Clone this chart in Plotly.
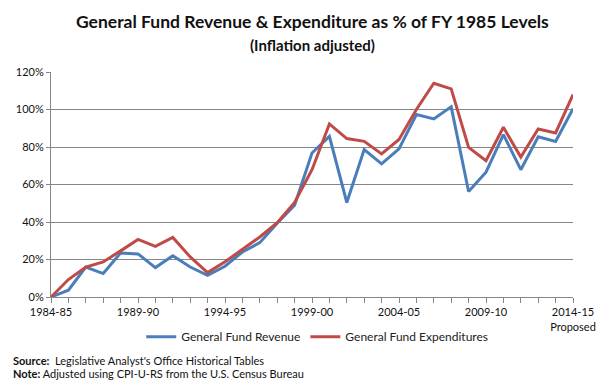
import plotly.graph_objects as go

years = ["1984-85", "1985-86", "1986-87", "1987-88", "1988-89", "1989-90", "1990-91",
         "1991-92", "1992-93", "1993-94", "1994-95", "1995-96", "1996-97", "1997-98",
         "1998-99", "1999-00", "2000-01", "2001-02", "2002-03", "2003-04", "2004-05",
         "2005-06", "2006-07", "2007-08", "2008-09", "2009-10", "2010-11", "2011-12",
         "2012-13", "2013-14", "2014-15"]
revenue = [0.0, 3.6, 16.0, 12.5, 23.5, 23.0, 15.7, 22.0, 16.0, 11.6, 16.4, 24.0, 29.0,
           39.3, 49.0, 76.8, 85.7, 50.4, 78.6, 71.0, 79.0, 97.3, 95.0, 101.4, 56.3, 66.6,
           86.6, 67.9, 85.4, 83.0, 100.4]
expenditure = [0.0, 9.3, 16.0, 18.7, 24.6, 30.7, 27.0, 31.8, 21.4, 13.0, 18.8, 25.5, 32.0,
               39.6, 50.4, 67.9, 92.3, 84.5, 83.0, 76.3, 84.0, 100.0, 114.0, 111.0, 79.8,
               72.7, 90.5, 74.6, 89.6, 87.5, 108.0]
tick_labels = {0: "1984-85", 5: "1989-90", 10: "1994-95", 15: "1999-00",
               20: "2004-05", 25: "2009-10", 30: "2014-15<br>Proposed"}

FONT = "Lato"
xidx = list(range(len(years)))

fig = go.Figure()
fig.add_trace(go.Scatter(x=xidx, y=[v / 100 for v in revenue], mode="lines",
                         name="General Fund Revenue",
                         line=dict(color="#4A7EBB", width=3), customdata=years))
fig.add_trace(go.Scatter(x=xidx, y=[v / 100 for v in expenditure], mode="lines",
                         name="General Fund Expenditures",
                         line=dict(color="#BE4B48", width=3), customdata=years))

fig.update_layout(
    width=614, height=388,
    margin=dict(l=51, r=41, t=72, b=91),
    paper_bgcolor="white", plot_bgcolor="white",
    font=dict(family=FONT, size=11, color="#1a1a1a"),
    showlegend=True,
    legend=dict(orientation="h", x=0.51, xanchor="center", y=-0.112, yanchor="top",
                font=dict(size=12, color="#222"), itemwidth=30,
                tracegroupgap=0, bgcolor="rgba(0,0,0,0)"),
    annotations=[
        dict(text="<b>General Fund Revenue &amp; Expenditure as % of FY 1985 Levels</b>",
             xref="paper", yref="paper", x=0.5, y=(297 - 22) / 225, xanchor="center",
             yanchor="middle", showarrow=False, font=dict(size=17.5, color="#111")),
        dict(text="<b>(Inflation adjusted)</b>",
             xref="paper", yref="paper", x=0.5, y=(297 - 45) / 225, xanchor="center",
             yanchor="middle", showarrow=False, font=dict(size=15, color="#111")),
        dict(text="<b>Source:</b>  Legislative Analyst's Office Historical Tables",
             xref="paper", yref="paper", x=(11 - 51) / 522, y=(297 - 360) / 225,
             xanchor="left", yanchor="middle", showarrow=False,
             font=dict(size=11, color="#111")),
        dict(text="<b>Note:</b> Adjusted using CPI-U-RS from the U.S. Census Bureau",
             xref="paper", yref="paper", x=(11 - 51) / 522, y=(297 - 373) / 225,
             xanchor="left", yanchor="middle", showarrow=False,
             font=dict(size=11, color="#111")),
    ],
)

fig.update_xaxes(
    range=[0, len(years) - 1],
    tickmode="array", tickvals=list(tick_labels.keys()),
    ticktext=list(tick_labels.values()),
    ticks="outside", ticklen=5, tickcolor="#868686",
    minor=dict(dtick=1, ticks="outside", ticklen=5, tickcolor="#868686", showgrid=False),
    showline=True, linecolor="#868686", linewidth=1,
    showgrid=False, zeroline=False, tickfont=dict(size=11, color="#111"),
)
fig.update_yaxes(
    range=[0, 1.2], dtick=0.2, tickformat=".0%",
    ticks="outside", ticklen=4, tickcolor="#868686",
    showline=True, linecolor="#868686", linewidth=1,
    showgrid=True, gridcolor="#868686", gridwidth=1,
    zeroline=False, tickfont=dict(size=11, color="#111"),
)

fig.write_html("out.html", config={"displayModeBar": False},
               post_script="document.body.style.margin='0px';")
